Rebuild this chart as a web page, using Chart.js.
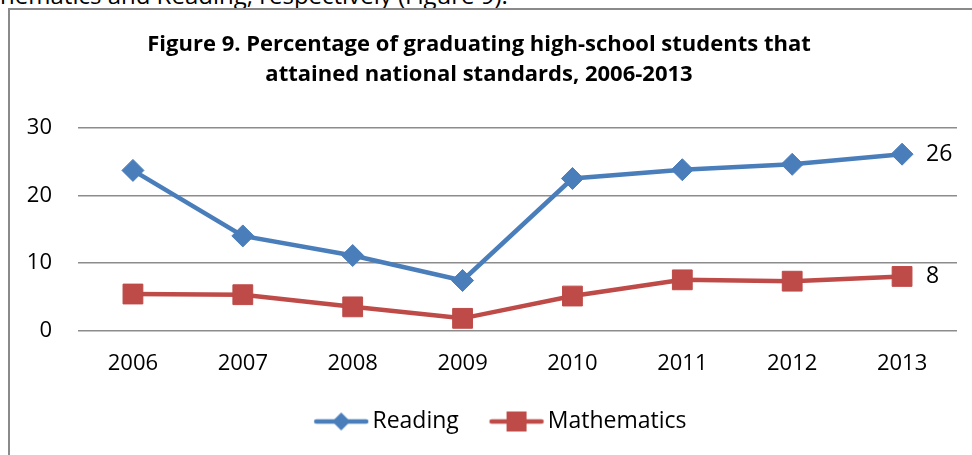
<!DOCTYPE html>
<html>
<head>
<meta charset="utf-8">
<script src="https://cdn.jsdelivr.net/npm/chart.js@4.4.1/dist/chart.umd.min.js"></script>
<style>
  html, body { margin: 0; padding: 0; background: #fff; overflow: hidden; }
  body { width: 972px; height: 455px; position: relative; font-family: "Open Sans", sans-serif; }
  .body-text { position: absolute; left: -44px; top: -17px; font-size: 24px; line-height: 24px; color: #000; white-space: nowrap; }
  .frame { position: absolute; left: 8px; top: 8px; width: 1000px; height: 500px; border-left: 2px solid #8a8a8a; border-top: 2px solid #8a8a8a; }
  #chart { position: absolute; left: 0; top: 0; }
</style>
</head>
<body>
<div class="body-text">mathematics and Reading, respectively (Figure 9).</div>
<div class="frame"></div>
<canvas id="chart" width="972" height="455"></canvas>
<script>
const years = ['2006', '2007', '2008', '2009', '2010', '2011', '2012', '2013'];
const reading = [23.7, 14.0, 11.1, 7.4, 22.5, 23.8, 24.6, 26.1];
const mathematics = [5.4, 5.3, 3.5, 1.8, 5.1, 7.5, 7.3, 8.0];
const yTicks = [0, 10, 20, 30];

const blue = '#4a7ebb';
const red = '#be4b48';
const font = '"Open Sans", sans-serif';

// legend icons: line with the marker on it, drawn off-centre so the gaps look like office charts
function legendIcon(color, shape) {
    const c = document.createElement('canvas');
    c.width = 80; c.height = 24;
    const ctx = c.getContext('2d');
    const x0 = 22;
    ctx.strokeStyle = color;
    ctx.lineWidth = 4.5;
    ctx.lineCap = 'round';
    ctx.beginPath(); ctx.moveTo(x0 + 3, 12); ctx.lineTo(x0 + 53, 12); ctx.stroke();
    ctx.fillStyle = color;
    if (shape === 'diamond') {
        ctx.beginPath();
        ctx.moveTo(x0 + 28, 3); ctx.lineTo(x0 + 37, 12); ctx.lineTo(x0 + 28, 21); ctx.lineTo(x0 + 19, 12);
        ctx.closePath(); ctx.fill();
    } else {
        ctx.fillRect(x0 + 18, 2, 20, 20);
    }
    return c;
}
const legendIcons = [legendIcon(blue, 'diamond'), legendIcon(red, 'square')];

const lastValueLabels = {
    id: 'lastValueLabels',
    afterDatasetsDraw(chart) {
        const ctx = chart.ctx;
        ctx.save();
        ctx.font = '23px ' + font;
        ctx.fillStyle = '#000';
        ctx.textAlign = 'left';
        ctx.textBaseline = 'middle';
        chart.data.datasets.forEach((ds, i) => {
            const meta = chart.getDatasetMeta(i);
            const pt = meta.data[meta.data.length - 1];
            ctx.fillText(String(Math.round(ds.data[ds.data.length - 1])), pt.x + 24, pt.y);
        });
        ctx.restore();
    }
};

const shiftLegend = {
    id: 'shiftLegend',
    afterLayout(chart) {
        chart.legend.left += 15;
        chart.legend.right += 15;
    }
};

new Chart(document.getElementById('chart').getContext('2d'), {
    type: 'line',
    data: {
        labels: years,
        datasets: [{
            label: 'Reading',
            data: reading,
            borderColor: blue,
            backgroundColor: blue,
            borderWidth: 4.5,
            pointStyle: 'rectRot',
            pointRadius: 11,
            pointBorderWidth: 1,
            tension: 0
        }, {
            label: 'Mathematics',
            data: mathematics,
            borderColor: red,
            backgroundColor: red,
            borderWidth: 4.5,
            pointStyle: 'rect',
            pointRadius: 14,
            pointBorderWidth: 1,
            tension: 0
        }]
    },
    options: {
        responsive: false,
        animation: false,
        devicePixelRatio: 1,
        layout: { padding: { left: 0, right: 14, top: 30, bottom: 12 } },
        plugins: {
            title: {
                display: true,
                text: ['Figure 9. Percentage of graduating high-school students that', 'attained national standards, 2006-2013'],
                color: '#000',
                font: { family: font, size: 22, weight: 'bold', lineHeight: 1.36 },
                padding: { top: 0, bottom: 38 }
            },
            legend: {
                position: 'bottom',
                labels: {
                    color: '#000',
                    font: { family: font, size: 23 },
                    usePointStyle: true,
                    pointStyleWidth: 59.5,
                    padding: 18,
                    generateLabels(chart) {
                        const items = Chart.defaults.plugins.legend.labels.generateLabels(chart);
                        items.forEach((it, i) => { it.pointStyle = legendIcons[i]; });
                        return items;
                    }
                }
            },
            tooltip: { enabled: false }
        },
        scales: {
            x: {
                offset: true,
                grid: { display: false },
                border: { display: false },
                ticks: { color: '#000', font: { family: font, size: 22 }, padding: 12.5, maxRotation: 0 },
                afterFit(scale) { scale.height = 61.5; }
            },
            y: {
                min: 0,
                max: 30,
                afterBuildTicks(scale) { scale.ticks = yTicks.map(v => ({ value: v })); },
                grid: { color: '#8c8c8c', lineWidth: 1.5, drawTicks: false },
                border: { display: false },
                ticks: { color: '#000', font: { family: font, size: 22 }, padding: 26 },
                afterFit(scale) { scale.width = 78; }
            }
        }
    },
    plugins: [lastValueLabels, shiftLegend]
});
</script>
</body>
</html>
